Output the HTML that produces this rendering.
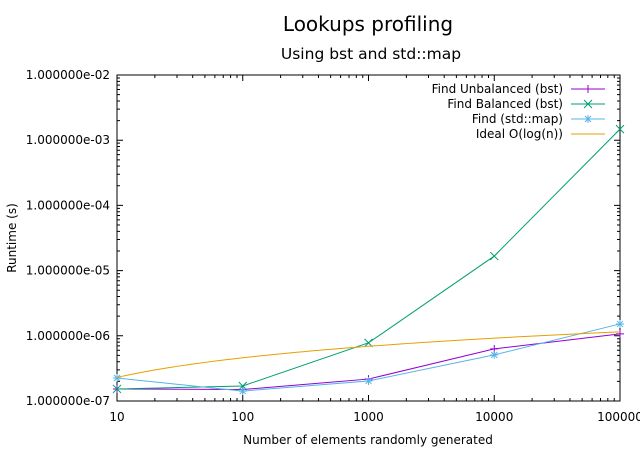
<!DOCTYPE html>
<html><head><meta charset="utf-8"><style>
body{margin:0;background:#fff}
svg{display:block;font-family:"DejaVu Sans","Liberation Sans",sans-serif}
</style></head><body>
<svg id="chart" width="640" height="449" xmlns="http://www.w3.org/2000/svg">
<rect width="640" height="449" fill="#fff"/>
<text x="368" y="31" font-size="20" text-anchor="middle">Lookups profiling</text>
<text x="371" y="59" font-size="15.5" text-anchor="middle">Using bst and std::map</text>
<text x="368" y="444" font-size="12" text-anchor="middle">Number of elements randomly generated</text>
<text transform="translate(16,238) rotate(-90)" font-size="12" text-anchor="middle">Runtime (s)</text>
<g id="axes"></g><g id="series"></g><g id="legend"></g>
</svg>
<script>
const xCats=[10,100,1000,10000,100000];
const xTicks=["10","100","1000","10000","100000"];
const yTicks=["1.000000e-07","1.000000e-06","1.000000e-05","1.000000e-04","1.000000e-03","1.000000e-02"];
const unbalanced=[1.53e-7,1.5e-7,2.17e-7,6.3e-7,1.07e-6];
const balanced=[1.53e-7,1.7e-7,7.8e-7,1.67e-5,1.48e-3];
const stdmap=[2.25e-7,1.42e-7,2.03e-7,5.1e-7,1.52e-6];
const idealCoef=2.3e-7;
const names=["Find Unbalanced (bst)","Find Balanced (bst)","Find (std::map)","Ideal O(log(n))"];
const X0=117,X1=620,Y0=401,Y1=75;
const xs=v=>X0+(Math.log10(v)-1)/4*(X1-X0);
const ys=v=>Y0-(Math.log10(v)+7)/5*(Y0-Y1);
const NS="http://www.w3.org/2000/svg";
function mk(t,a,p){const e=document.createElementNS(NS,t);for(const k in a)e.setAttribute(k,a[k]);p.appendChild(e);return e;}
const ax=document.getElementById('axes');
const frame=mk('rect',{x:X0,y:Y1,width:X1-X0,height:Y0-Y1,fill:'none',stroke:'#000','stroke-width':1},ax);


let d='';
for(let i=1;i<=5;i++){for(let m=1;m<10;m++){const v=Math.pow(10,i)*m;if(v>100000)break;const x=xs(v);const L=m==1?6:3;d+=`M${x},${Y0}v${-L}M${x},${Y1}v${L}`;}}
for(let e=-7;e<=-2;e++){for(let m=1;m<10;m++){const v=m*Math.pow(10,e);if(e==-2&&m>1)break;const y=ys(v);const L=m==1?6:3;d+=`M${X0},${y}h${L}M${X1},${y}h${-L}`;}}
const tk=mk('path',{d:d,stroke:'#000','stroke-width':1,fill:'none'},ax);


xCats.forEach((c,i)=>{const t=mk('text',{x:xs(c),y:421,'font-size':12,'text-anchor':'middle'},ax);t.textContent=xTicks[i];

});
yTicks.forEach((s,i)=>{const t=mk('text',{x:110,y:ys(Math.pow(10,i-7))+4,'font-size':12,'text-anchor':'end'},ax);t.textContent=s;

});
const sg=document.getElementById('series');
const cols=['#9400d3','#009e73','#56b4e9','#e69f00'];
function marker(type,x,y,c,g){let p='';
if(type==0)p=`M${x-4},${y}h8M${x},${y-4}v8`;
else if(type==1)p=`M${x-4},${y-4}l8,8M${x-4},${y+4}l8,-8`;
else p=`M${x-4},${y}h8M${x},${y-4}v8M${x-3},${y-3}l6,6M${x-3},${y+3}l6,-6`;
mk('path',{d:p,stroke:c,'stroke-width':1,fill:'none'},g);}
[unbalanced,balanced,stdmap].forEach((arr,k)=>{
const g=mk('g',{},sg);


mk('polyline',{points:arr.map((v,i)=>xs(xCats[i])+','+ys(v)).join(' '),fill:'none',stroke:cols[k],'stroke-width':1},g);
arr.forEach((v,i)=>marker(k,xs(xCats[i]),ys(v),cols[k],g));});
let ip=[];for(let i=0;i<=100;i++){const n=Math.pow(10,1+4*i/100);ip.push(xs(n)+','+ys(idealCoef*Math.log10(n)));}
const il=mk('polyline',{points:ip.join(' '),fill:'none',stroke:cols[3],'stroke-width':1},sg);


const lg=document.getElementById('legend');
names.forEach((n,i)=>{const y=89+i*15;
const g=mk('g',{},lg);


const t=mk('text',{x:563,y:y+4,'font-size':12,'text-anchor':'end'},g);t.textContent=n;
mk('line',{x1:571,x2:605,y1:y,y2:y,stroke:cols[i],'stroke-width':1},g);
if(i<3)marker(i,588,y,cols[i],g);});
</script>
</body></html>
